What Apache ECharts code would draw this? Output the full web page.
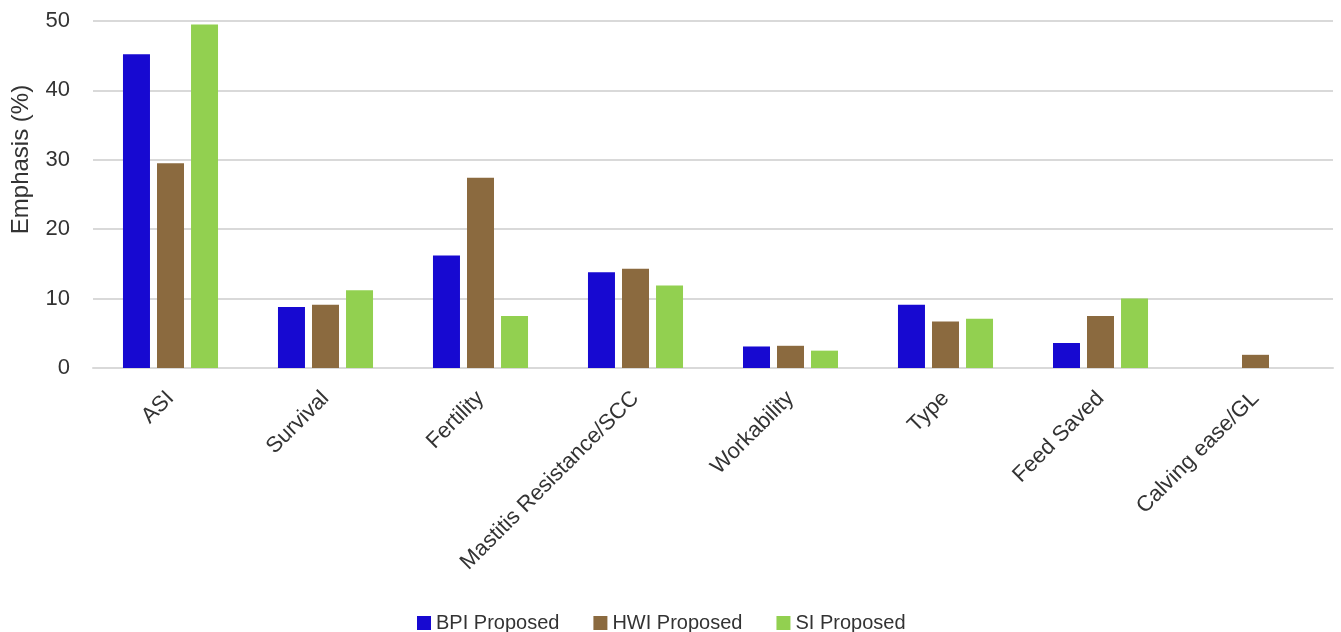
<!DOCTYPE html>
<html>
<head>
<meta charset="utf-8">
<script src="https://cdn.jsdelivr.net/npm/echarts@6/dist/echarts.min.js"></script>
<style>
  html, body { margin: 0; padding: 0; background: #ffffff; }
  #chart { width: 1341px; height: 632px; }
</style>
</head>
<body>
<div id="chart"></div>
<script>
// Trait categories on the x axis
const categories = ['ASI', 'Survival', 'Fertility', 'Mastitis Resistance/SCC', 'Workability', 'Type', 'Feed Saved', 'Calving ease/GL'];

// Relative emphasis (%) of each trait in the proposed indexes
const bpiProposed = [45.2, 8.8, 16.2, 13.8, 3.1, 9.1, 3.6, 0];
const hwiProposed = [29.5, 9.1, 27.4, 14.3, 3.2, 6.7, 7.5, 1.9];
const siProposed  = [49.5, 11.2, 7.5, 11.9, 2.5, 7.1, 10.0, 0];

const yTicks = { min: 0, max: 50, interval: 10 };

const fontFamily = '"Liberation Sans", "DejaVu Sans", sans-serif';

const chart = echarts.init(document.getElementById('chart'), null, { renderer: 'canvas' });

function barSeries(name, data, color) {
  return {
    name: name,
    type: 'bar',
    data: data,
    barWidth: 27,
    barGap: '26%',
    barCategoryGap: '38%',
    itemStyle: { color: color },
    animation: false
  };
}

chart.setOption({
  animation: false,
  backgroundColor: '#ffffff',
  grid: { left: 93, right: 8, top: 21, bottom: 264, containLabel: false },
  legend: {
    top: 608,
    left: 412,
    itemWidth: 14,
    itemHeight: 14,
    itemGap: 34,
    icon: 'rect',
    textStyle: { fontFamily: fontFamily, fontSize: 20, color: '#333333' },
    data: ['BPI Proposed', 'HWI Proposed', 'SI Proposed']
  },
  xAxis: {
    type: 'category',
    data: categories,
    axisLine: { lineStyle: { color: '#d9d9d9', width: 2 } },
    axisTick: { show: false },
    axisLabel: {
      rotate: 45,
      interval: 0,
      margin: 27,
      fontFamily: fontFamily,
      fontSize: 22,
      color: '#333333'
    }
  },
  yAxis: {
    type: 'value',
    min: yTicks.min,
    max: yTicks.max,
    interval: yTicks.interval,
    name: 'Emphasis (%)',
    nameLocation: 'middle',
    nameGap: 60,
    nameRotate: 90,
    nameTextStyle: { fontFamily: fontFamily, fontSize: 24, color: '#333333', padding: [0, 0, 0, 70] },
    axisLine: { show: false },
    axisTick: { show: false },
    axisLabel: { fontFamily: fontFamily, fontSize: 22, color: '#333333', margin: 23 },
    splitLine: { lineStyle: { color: '#d9d9d9', width: 2 } }
  },
  series: [
    barSeries('BPI Proposed', bpiProposed, '#1709d1'),
    barSeries('HWI Proposed', hwiProposed, '#8b6a3f'),
    barSeries('SI Proposed', siProposed, '#92d050')
  ]
});
</script>
</body>
</html>
